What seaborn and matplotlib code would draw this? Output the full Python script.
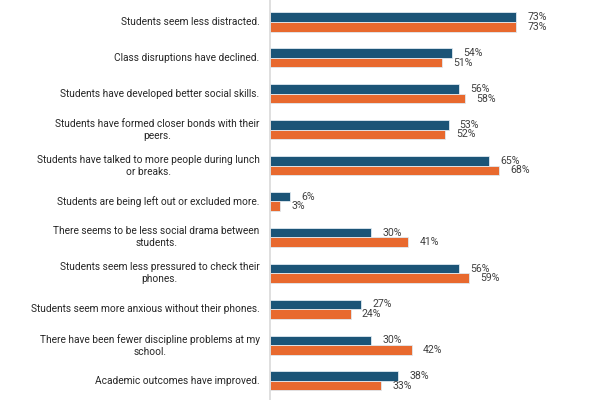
import matplotlib
matplotlib.use("Agg")
import matplotlib.pyplot as plt
import seaborn as sns
import pandas as pd

categories = [
    "Students seem less distracted.",
    "Class disruptions have declined.",
    "Students have developed better social skills.",
    "Students have formed closer bonds with their\npeers.",
    "Students have talked to more people during lunch\nor breaks.",
    "Students are being left out or excluded more.",
    "There seems to be less social drama between\nstudents.",
    "Students seem less pressured to check their\nphones.",
    "Students seem more anxious without their phones.",
    "There have been fewer discipline problems at my\nschool.",
    "Academic outcomes have improved.",
]
series_names = ["Series 1", "Series 2"]
series1 = [73, 54, 56, 53, 65, 6, 30, 56, 27, 30, 38]
series2 = [73, 51, 58, 52, 68, 3, 41, 59, 24, 42, 33]

df = pd.DataFrame({
    "category": categories * 2,
    "value": series1 + series2,
    "series": [series_names[0]] * len(categories) + [series_names[1]] * len(categories),
})

sns.set_theme(style="white")
plt.rcParams["font.family"] = ["Roboto", "DejaVu Sans"]

fig = plt.figure(figsize=(6, 4), dpi=100)
ax = fig.add_axes([270 / 600, 0, 330 / 600, 1])

palette = {series_names[0]: "#1b5477", series_names[1]: "#e8692e"}
sns.barplot(data=df, y="category", x="value", hue="series", orient="h",
            palette=palette, width=0.53, saturation=1, ax=ax,
            edgecolor="#dfe9f0", linewidth=0.6, legend=False)

for c in ax.containers:
    ax.bar_label(c, fmt="%d%%", padding=8, fontsize=7.6, color="#404040")

ax.set_xlim(0, 330 / 3.37)
ax.set_ylim(10.53, -0.613)
ax.set_xlabel("")
ax.set_ylabel("")
ax.set_xticks([])
for s in ["top", "right", "bottom"]:
    ax.spines[s].set_visible(False)
ax.spines["left"].set_color("#d9d9d9")
ax.spines["left"].set_linewidth(1.2)
ax.set_yticks(range(len(categories)))
ax.set_yticklabels([])
ax.tick_params(axis="y", length=0)

for i, label in enumerate(categories):
    ax.annotate(label, xy=(0, i), xycoords=("axes fraction", "data"),
                xytext=(-7.5, 0), textcoords="offset points",
                ha="right", va="center", ma="center", linespacing=1.25,
                fontsize=7.3, color="#262626", annotation_clip=False)

fig.savefig("out.png", dpi=100)
